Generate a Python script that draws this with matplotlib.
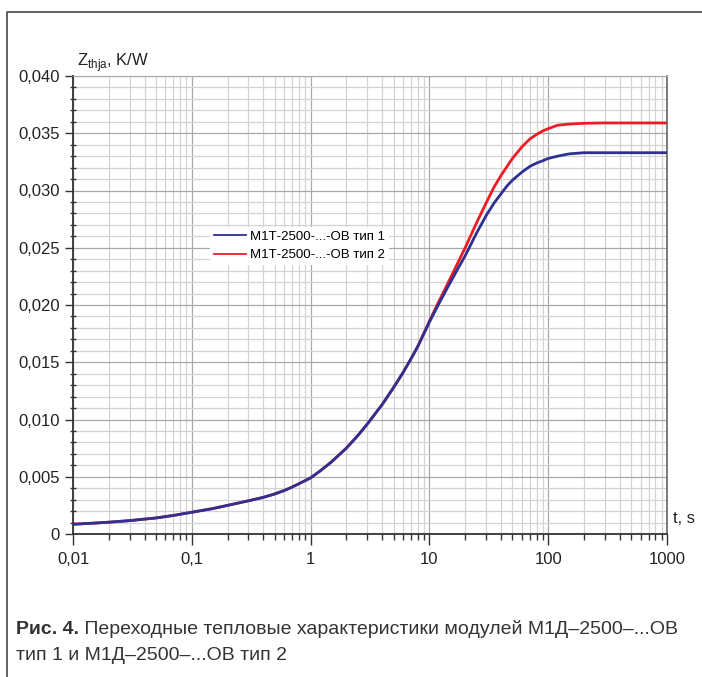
import numpy as np
import matplotlib
matplotlib.use('Agg')
import matplotlib.pyplot as plt
from matplotlib.ticker import FixedLocator, FuncFormatter, LogLocator, NullFormatter
from matplotlib.lines import Line2D

plt.rcParams['font.family'] = ['Liberation Sans', 'DejaVu Sans']

# время, с
t = [0.01, 0.015, 0.02, 0.03, 0.05, 0.07, 0.1, 0.15, 0.2, 0.3, 0.4, 0.5, 0.6, 0.7, 0.8,
     1, 1.2, 1.5, 2, 2.5, 3, 4, 5, 6, 7, 8, 10, 12, 14, 17, 20, 25, 30, 35, 40,
     45, 50, 60, 70, 80, 90, 100, 120, 150, 200, 300, 500, 1000]
# Zthja тип 1, K/W
z_type1 = [0.00085, 0.00095, 0.00103, 0.00117, 0.0014, 0.00162, 0.0019, 0.00222, 0.0025,
           0.0029, 0.0032, 0.0035, 0.0038, 0.0041, 0.0044,
           0.0049, 0.0055, 0.0063, 0.0075, 0.0086, 0.0096, 0.0113, 0.0128, 0.0141, 0.0153, 0.0164,
           0.0185, 0.0201, 0.0214, 0.0230, 0.0243, 0.0263, 0.0278, 0.0289, 0.0297,
           0.0304, 0.0309, 0.0316, 0.0321, 0.0324, 0.0326, 0.0328, 0.0330, 0.0332, 0.0333, 0.0333, 0.0333, 0.0333]
# Zthja тип 2, K/W
z_type2 = [0.00085, 0.00095, 0.00103, 0.00117, 0.0014, 0.00162, 0.0019, 0.00222, 0.0025,
           0.0029, 0.0032, 0.0035, 0.0038, 0.0041, 0.0044,
           0.0049, 0.0055, 0.0063, 0.0075, 0.0086, 0.0096, 0.0113, 0.0128, 0.0141, 0.0153, 0.0164,
           0.0186, 0.0203, 0.0217, 0.0235, 0.0250, 0.0272, 0.0289, 0.0303, 0.0313,
           0.0321, 0.0328, 0.0338, 0.0345, 0.0349, 0.0352, 0.0354, 0.0357, 0.0358, 0.03587, 0.0359, 0.0359, 0.0359]

legend_labels = ['М1Т-2500-...-ОВ тип 1', 'М1Т-2500-...-ОВ тип 2']
x_ticks = [0.01, 0.1, 1, 10, 100, 1000]
x_ticklabels = ['0,01', '0,1', '1', '10', '100', '1000']
y_ticks = [0, 0.005, 0.010, 0.015, 0.020, 0.025, 0.030, 0.035, 0.040]

fig = plt.figure(figsize=(7.02, 6.77), dpi=100)
ax = fig.add_axes([73 / 702, 1 - 534 / 677, (667 - 73) / 702, (534 - 76) / 677])

ax.plot(t, z_type2, color='#ed1c24', lw=2.0, label=legend_labels[1], zorder=3)
ax.plot(t, z_type1, color='#2e3192', lw=2.0, label=legend_labels[0], zorder=4)

ax.set_xscale('log')
ax.set_xlim(0.01, 1000)
ax.set_ylim(0, 0.040)

ax.xaxis.set_major_locator(FixedLocator(x_ticks))
ax.xaxis.set_major_formatter(FuncFormatter(lambda v, p: x_ticklabels[x_ticks.index(v)] if v in x_ticks else ''))
ax.xaxis.set_minor_locator(LogLocator(base=10, subs=np.arange(2, 10), numticks=20))
ax.xaxis.set_minor_formatter(NullFormatter())

ax.yaxis.set_major_locator(FixedLocator(y_ticks))
ax.yaxis.set_major_formatter(FuncFormatter(lambda v, p: '0' if abs(v) < 1e-9 else f'{v:.3f}'.replace('.', ',')))
ax.yaxis.set_minor_locator(FixedLocator(np.arange(0, 0.0401, 0.001)))

ax.grid(which='major', color='#a8a8a8', lw=0.9)
ax.grid(which='minor', color='#d3d3d3', lw=0.9)
ax.set_axisbelow(True)

ax.tick_params(axis='both', which='major', direction='out', length=6, width=1, color='#333333', labelsize=12, labelcolor='#222222')
ax.tick_params(axis='y', which='minor', direction='inout', length=5, width=1, color='#333333')
ax.tick_params(axis='x', which='minor', direction='out', length=4, width=1, color='#333333')
ax.tick_params(axis='x', which='major', length=8, pad=5)

for s in ['left', 'bottom']:
    ax.spines[s].set_color('#333333')
    ax.spines[s].set_linewidth(1.3)
ax.spines['top'].set_color('#a8a8a8')
ax.spines['right'].set_color('#666666')
ax.spines['right'].set_linewidth(1.2)

handles, labels = ax.get_legend_handles_labels()
leg = ax.legend(handles[::-1], labels[::-1], loc='upper left', bbox_to_anchor=(0.22, 0.685),
                frameon=True, fontsize=9.5, handlelength=2.4, handletextpad=0.3,
                borderpad=0.3, labelspacing=0.45, fancybox=False)
leg.get_frame().set_edgecolor('none')
leg.get_frame().set_facecolor('white')
leg.get_frame().set_alpha(1)
for line in leg.get_lines():
    line.set_linewidth(1.3)

fig.text(77 / 702, 1 - 66 / 677, r'Z$_{\mathregular{thja}}$, K/W', fontsize=12, color='#222222')
fig.text(673 / 702, 1 - 523 / 677, 't, s', fontsize=12, color='#222222')

# подпись к рисунку
c1 = fig.text(16 / 702, 1 - 634 / 677, 'Рис. 4.', fontsize=14, fontweight='bold', color='#333333')
ax.annotate(' Переходные тепловые характеристики модулей М1Д–2500–...ОВ', xy=(1, 0), xycoords=c1,
            fontsize=14, color='#333333', va='bottom', ha='left', annotation_clip=False)
fig.text(16 / 702, 1 - 660 / 677, 'тип 1 и М1Д–2500–...ОВ тип 2', fontsize=14, color='#333333')

# рамка
fig.add_artist(Line2D([7 / 702, 7 / 702, 1.0], [0, 1 - 12 / 677, 1 - 12 / 677],
                      transform=fig.transFigure, color='#555555', lw=1.3))

fig.savefig('out.png', dpi=100)
